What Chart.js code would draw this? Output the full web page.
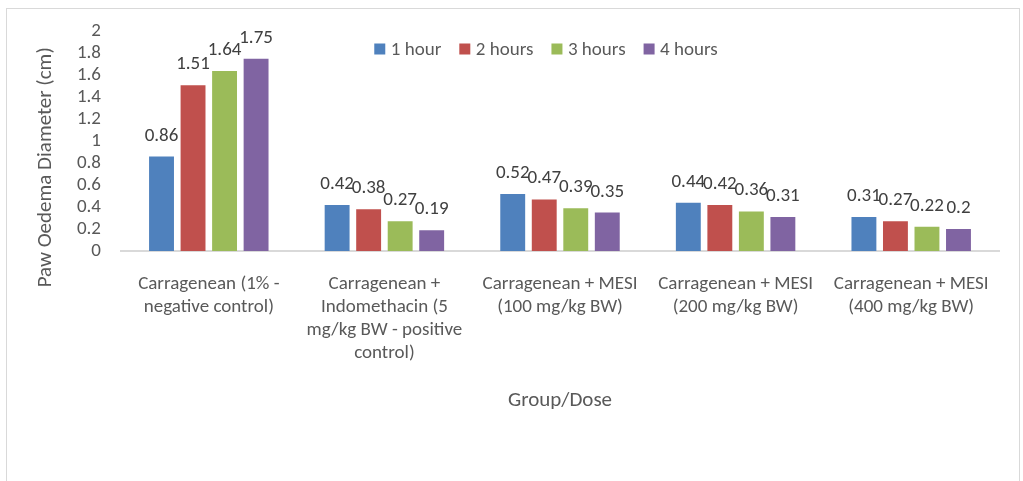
<!DOCTYPE html>
<html>
<head>
<meta charset="utf-8">
<script src="https://cdn.jsdelivr.net/npm/chart.js@4/dist/chart.umd.min.js"></script>
<style>
  html, body { margin: 0; padding: 0; background: #fff; overflow: hidden; }
  #frame { position: absolute; left: 6px; top: 8px; width: 1014px; height: 490px; border: 1px solid #d9d9d9; box-sizing: border-box; }
  #c { position: absolute; left: 0; top: 0; }
</style>
</head>
<body>
<div id="frame"></div>
<canvas id="c" width="1023" height="481"></canvas>
<script>
const categories = [
  ["Carragenean (1% -", "negative control)"],
  ["Carragenean +", "Indomethacin (5", "mg/kg BW - positive", "control)"],
  ["Carragenean + MESI", "(100 mg/kg BW)"],
  ["Carragenean + MESI", "(200 mg/kg BW)"],
  ["Carragenean + MESI", "(400 mg/kg BW)"]
];
const seriesNames = ["1 hour", "2 hours", "3 hours", "4 hours"];
const hour1 = [0.86, 0.42, 0.52, 0.44, 0.31];
const hour2 = [1.51, 0.38, 0.47, 0.42, 0.27];
const hour3 = [1.64, 0.27, 0.39, 0.36, 0.22];
const hour4 = [1.75, 0.19, 0.35, 0.31, 0.2];
const seriesColors = ["#4f81bd", "#c0504d", "#9bbb59", "#8064a2"];
const yTicks = [0, 0.2, 0.4, 0.6, 0.8, 1, 1.2, 1.4, 1.6, 1.8, 2];
const yTitle = "Paw Oedema Diameter (cm)";
const xTitle = "Group/Dose";

const FONT = "Carlito, Lato, sans-serif";
const TXT = "#595959";

const valueLabels = {
  id: 'valueLabels',
  afterDatasetsDraw(chart) {
    const ctx = chart.ctx;
    ctx.save();
    ctx.font = "19px " + FONT;
    ctx.fillStyle = "#404040";
    ctx.textAlign = "center";
    ctx.textBaseline = "alphabetic";
    chart.data.datasets.forEach((ds, i) => {
      const meta = chart.getDatasetMeta(i);
      meta.data.forEach((bar, j) => {
        ctx.fillText(String(ds.data[j]), bar.x, bar.y - 16);
      });
    });
    ctx.restore();
  }
};

// Legend drawn inside the plot area, in a single row (as in the reference)
const inlineLegend = {
  id: 'inlineLegend',
  afterDraw(chart) {
    const ctx = chart.ctx;
    ctx.save();
    ctx.font = "19px " + FONT;
    ctx.textBaseline = "middle";
    ctx.textAlign = "left";
    const box = 11, gap = 5.5, itemGap = 18;
    const items = chart.data.datasets.map(ds => ({ text: ds.label, color: ds.backgroundColor }));
    let total = 0;
    items.forEach((it, k) => {
      it.w = ctx.measureText(it.text).width;
      total += box + gap + it.w + (k < items.length - 1 ? itemGap : 0);
    });
    let x = 546 - total / 2;
    const cy = 49;
    items.forEach(it => {
      ctx.fillStyle = it.color;
      ctx.fillRect(x, cy - box / 2, box, box);
      ctx.fillStyle = TXT;
      ctx.fillText(it.text, x + box + gap, cy + 1);
      x += box + gap + it.w + itemGap;
    });
    ctx.restore();
  }
};

const datasets = [hour1, hour2, hour3, hour4].map((d, i) => ({
  label: seriesNames[i],
  data: d,
  backgroundColor: seriesColors[i],
  borderWidth: 0,
  categoryPercentage: 0.718,
  barPercentage: 0.79
}));

new Chart(document.getElementById('c'), {
  type: 'bar',
  data: { labels: categories, datasets },
  options: {
    responsive: false,
    animation: false,
    devicePixelRatio: 1,
    layout: { padding: { left: 0, right: 24, top: 31, bottom: 0 } },
    plugins: {
      legend: { display: false },
      tooltip: { enabled: false }
    },
    scales: {
      x: {
        grid: { display: false, drawTicks: false },
        border: { display: true, color: "#d9d9d9", width: 2 },
        ticks: {
          autoSkip: false, maxRotation: 0, minRotation: 0, padding: 22,
          color: TXT,
          font: { family: FONT, size: 19, lineHeight: 1.2 }
        },
        title: {
          display: true, text: xTitle, color: TXT,
          font: { family: FONT, size: 21, lineHeight: 1.2 },
          padding: { top: 0, bottom: 68 }
        },
        afterFit(s) { s.height = 230; }
      },
      y: {
        min: 0, max: 2,
        afterBuildTicks(s) { s.ticks = yTicks.map(v => ({ value: v })); },
        grid: { display: false, drawTicks: false },
        border: { display: false },
        ticks: {
          autoSkip: false,
          padding: 20, color: TXT,
          font: { family: FONT, size: 19 },
          callback: (v) => String(v)
        },
        title: {
          display: true, text: yTitle + "\u00a0".repeat(11), color: TXT,
          font: { family: FONT, size: 21, lineHeight: 1.2 },
          padding: { top: 33.4, bottom: 0 }
        },
        afterFit(s) { s.width = 121; }
      }
    }
  },
  plugins: [valueLabels, inlineLegend]
});
</script>
</body>
</html>
